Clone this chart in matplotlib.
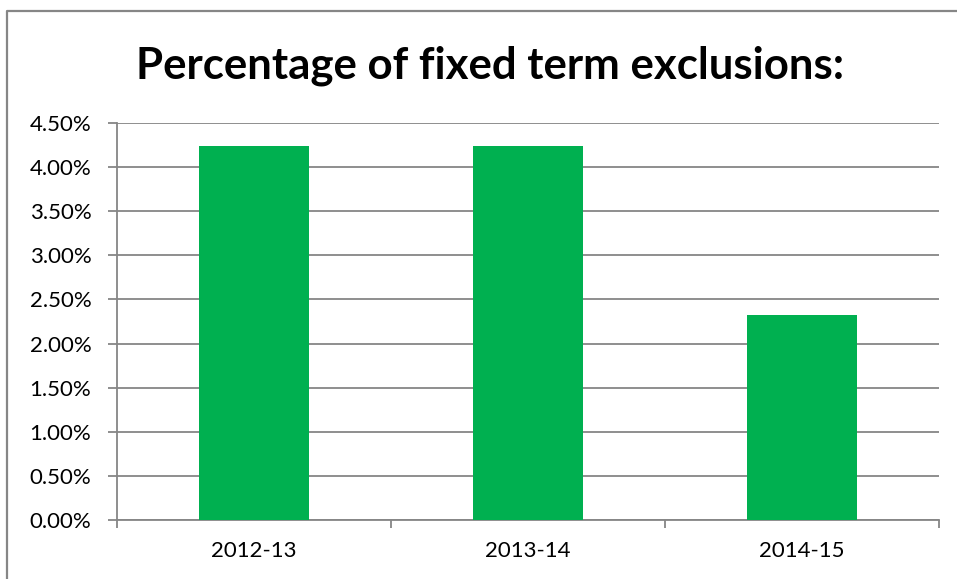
import matplotlib
matplotlib.use("Agg")
import matplotlib.pyplot as plt
from matplotlib.lines import Line2D
from matplotlib.ticker import MultipleLocator, FuncFormatter
import numpy as np

years = ["2012-13", "2013-14", "2014-15"]
exclusion_pct = [4.24, 4.24, 2.32]

GREEN = "#00b050"
GRID = "#868686"

plt.rcParams["font.family"] = ["Lato", "DejaVu Sans"]

fig = plt.figure(figsize=(9.57, 5.79), dpi=100)
ax = fig.add_axes([0.1223, 0.1019, 0.9812 - 0.1223, 0.7876 - 0.1019])

x = np.arange(len(years))
ax.bar(x, exclusion_pct, width=0.4, color=GREEN, zorder=3)

ax.set_xlim(-0.5, len(years) - 0.5)
ax.set_ylim(0, 4.5)
ax.yaxis.set_major_locator(MultipleLocator(0.5))
ax.yaxis.set_major_formatter(FuncFormatter(lambda v, _: f"{v:.2f}%"))
ax.set_xticks(x)
ax.set_xticklabels(years)
# category boundary ticks on the x axis, like a spreadsheet chart
ax.set_xticks(np.arange(-0.5, len(years)), minor=True)
ax.tick_params(axis="x", which="major", length=0, pad=15, labelsize=16)
ax.tick_params(axis="x", which="minor", length=6, width=1.3, color=GRID)
ax.tick_params(axis="y", length=6.5, width=1.3, color=GRID, labelsize=16, pad=12)

ax.grid(axis="y", color=GRID, linewidth=1.3, zorder=0)
for side in ("top", "right"):
    ax.spines[side].set_visible(False)
for side in ("left", "bottom"):
    ax.spines[side].set_color(GRID)
    ax.spines[side].set_linewidth(1.3)

fig.text(490 / 957, 1 - 66 / 579, "Percentage of fixed term exclusions:",
         ha="center", va="center", fontsize=31.5, fontweight="bold")

# outer chart frame (left and top edges)
fig.add_artist(Line2D([7.5 / 957, 7.5 / 957, 1.0], [0.0, 1 - 11 / 579, 1 - 11 / 579],
                      transform=fig.transFigure, color=GRID, linewidth=1.6))

fig.savefig("out.png", dpi=100)
